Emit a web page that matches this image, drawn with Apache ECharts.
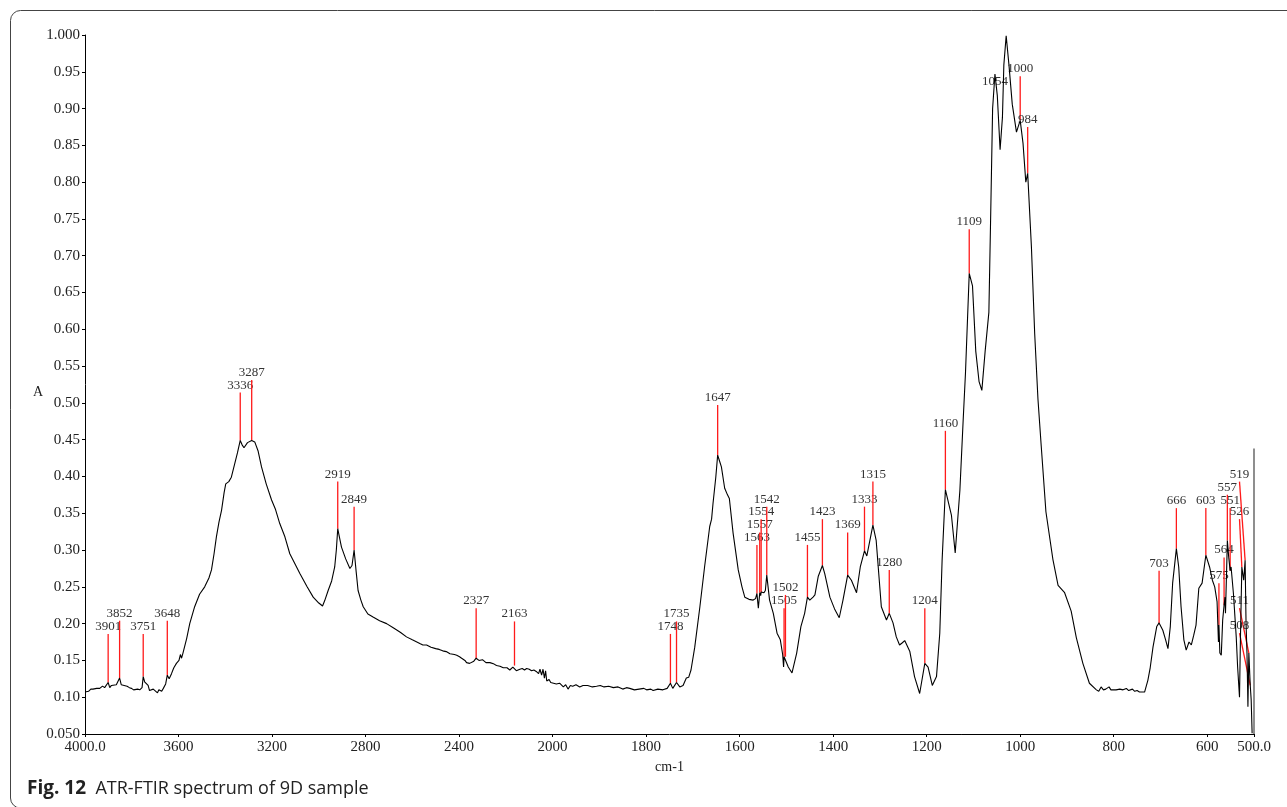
<!DOCTYPE html>
<html>
<head>
<meta charset="utf-8">
<title>ATR-FTIR spectrum of 9D sample</title>
<script src="https://cdn.jsdelivr.net/npm/echarts@6/dist/echarts.min.js"></script>
<style>
    html, body { margin: 0; padding: 0; background: #fff; }
    #chart { width: 1287px; height: 807px; }
</style>
</head>
<body>
<div id="chart"></div>
<script>
    // spectrum, [wavenumber cm-1, absorbance], split by region
    let baseHigh = [
        [4000, 0.107], [3992, 0.109], [3985, 0.108], [3975, 0.111], [3966, 0.111], [3958, 0.109], [3950, 0.112],
        [3937, 0.112], [3925, 0.115], [3916, 0.113], [3908, 0.112], [3901, 0.120], [3894, 0.113], [3887, 0.116],
        [3880, 0.114], [3866, 0.117], [3858, 0.119], [3852, 0.126], [3845, 0.117], [3837, 0.118], [3820, 0.115],
        [3810, 0.113], [3801, 0.112], [3792, 0.110], [3785, 0.109], [3775, 0.111], [3766, 0.110], [3756, 0.113],
        [3751, 0.128], [3745, 0.121], [3737, 0.119], [3730, 0.116], [3724, 0.109], [3716, 0.107], [3708, 0.111],
        [3700, 0.110], [3690, 0.106], [3684, 0.110], [3680, 0.112], [3672, 0.108], [3665, 0.112], [3655, 0.118],
        [3648, 0.130], [3640, 0.125], [3630, 0.132], [3624, 0.137], [3620, 0.140], [3614, 0.138], [3609, 0.146],
        [3598, 0.150], [3592, 0.158], [3587, 0.153], [3581, 0.160]
    ]
    let bandOH = [
        [3565, 0.180], [3552, 0.200], [3531, 0.223], [3510, 0.240], [3488, 0.250], [3470, 0.262], [3459, 0.273],
        [3448, 0.295], [3438, 0.318], [3427, 0.338], [3416, 0.354], [3405, 0.378], [3398, 0.390], [3385, 0.393],
        [3374, 0.399], [3359, 0.418], [3348, 0.432], [3336, 0.449], [3328, 0.443], [3320, 0.439], [3305, 0.446],
        [3287, 0.449], [3274, 0.447], [3260, 0.435], [3245, 0.413], [3225, 0.390], [3202, 0.368], [3185, 0.355],
        [3167, 0.336], [3145, 0.318], [3124, 0.295], [3100, 0.280], [3081, 0.268], [3050, 0.250], [3024, 0.236],
        [3000, 0.228], [2984, 0.224], [2975, 0.231], [2960, 0.245], [2945, 0.258], [2932, 0.277], [2925, 0.300],
        [2919, 0.329], [2912, 0.318], [2903, 0.304], [2885, 0.288], [2867, 0.275], [2858, 0.279], [2849, 0.300],
        [2840, 0.270], [2832, 0.245], [2820, 0.232], [2810, 0.223], [2790, 0.213], [2768, 0.209], [2740, 0.204],
        [2710, 0.200], [2680, 0.194], [2650, 0.188], [2625, 0.182], [2600, 0.178]
    ]
    let baseMid = [
        [2568, 0.173], [2555, 0.171], [2539, 0.171], [2520, 0.168], [2500, 0.166], [2485, 0.165], [2470, 0.163],
        [2455, 0.162], [2439, 0.159], [2420, 0.158], [2410, 0.157], [2398, 0.155], [2389, 0.153], [2375, 0.150],
        [2368, 0.147], [2360, 0.149], [2355, 0.146], [2347, 0.148], [2337, 0.149], [2327, 0.153], [2315, 0.150],
        [2300, 0.151], [2285, 0.147], [2268, 0.147], [2250, 0.145], [2240, 0.143], [2232, 0.145], [2225, 0.142],
        [2218, 0.144], [2211, 0.140], [2195, 0.140], [2183, 0.137], [2170, 0.141], [2163, 0.143], [2155, 0.136],
        [2147, 0.134], [2140, 0.138], [2130, 0.139], [2120, 0.137], [2111, 0.139], [2100, 0.138], [2090, 0.136],
        [2080, 0.137], [2070, 0.135], [2060, 0.132], [2054, 0.138], [2047, 0.130], [2041, 0.138], [2035, 0.126],
        [2030, 0.136], [2025, 0.122], [2015, 0.124], [2008, 0.120], [2000, 0.121], [1992, 0.118], [1985, 0.119],
        [1977, 0.114], [1972, 0.117], [1967, 0.111], [1962, 0.116], [1957, 0.115], [1950, 0.117], [1942, 0.114],
        [1935, 0.116], [1925, 0.116], [1915, 0.114], [1906, 0.115], [1898, 0.116], [1890, 0.114], [1880, 0.115],
        [1870, 0.113], [1860, 0.114], [1850, 0.111], [1842, 0.113], [1835, 0.112], [1825, 0.110], [1815, 0.111],
        [1805, 0.112], [1799, 0.110], [1790, 0.111], [1785, 0.109], [1775, 0.111], [1764, 0.110], [1755, 0.112],
        [1748, 0.119], [1743, 0.112], [1735, 0.120], [1728, 0.114], [1721, 0.116], [1714, 0.126], [1709, 0.127]
    ]
    let bandAmide = [
        [1704, 0.137], [1696, 0.168], [1685, 0.223], [1675, 0.277], [1664, 0.332], [1660, 0.342], [1657, 0.363],
        [1651, 0.399], [1647, 0.429], [1643, 0.421], [1639, 0.413], [1632, 0.384], [1626, 0.375], [1622, 0.370],
        [1614, 0.323], [1603, 0.273], [1595, 0.250], [1589, 0.236], [1580, 0.233], [1571, 0.232], [1566, 0.234],
        [1563, 0.241], [1560, 0.221], [1557, 0.242], [1555, 0.238], [1554, 0.243], [1548, 0.242], [1545, 0.245],
        [1542, 0.266], [1536, 0.232], [1528, 0.214], [1520, 0.187], [1513, 0.178], [1508, 0.158], [1506, 0.141],
        [1505, 0.155], [1502, 0.155], [1496, 0.141], [1488, 0.133], [1478, 0.160], [1469, 0.196], [1461, 0.214],
        [1455, 0.236], [1450, 0.232], [1443, 0.236], [1439, 0.239], [1432, 0.264], [1423, 0.279], [1418, 0.268],
        [1407, 0.236], [1397, 0.220], [1387, 0.208], [1379, 0.232], [1369, 0.266], [1361, 0.259], [1350, 0.242],
        [1342, 0.277], [1333, 0.299], [1328, 0.292], [1315, 0.334], [1308, 0.313], [1297, 0.223], [1286, 0.205],
        [1280, 0.214], [1272, 0.201], [1265, 0.182], [1258, 0.171], [1252, 0.174], [1247, 0.177], [1236, 0.162],
        [1226, 0.128], [1215, 0.105], [1204, 0.146], [1197, 0.141], [1188, 0.116]
    ]
    let bandSiO = [
        [1179, 0.128], [1172, 0.187], [1167, 0.286], [1160, 0.382], [1147, 0.347], [1139, 0.296], [1129, 0.381],
        [1122, 0.476], [1117, 0.541], [1109, 0.676], [1102, 0.659], [1095, 0.570], [1088, 0.529], [1082, 0.517],
        [1075, 0.570], [1067, 0.623], [1063, 0.759], [1059, 0.900], [1054, 0.947], [1049, 0.918], [1043, 0.844],
        [1038, 0.888], [1035, 0.959], [1030, 0.999], [1024, 0.959], [1017, 0.906], [1008, 0.868], [1000, 0.884],
        [994, 0.853], [988, 0.800], [984, 0.812], [976, 0.712], [969, 0.594], [962, 0.505], [955, 0.441],
        [945, 0.352], [930, 0.287], [919, 0.252], [905, 0.242], [901, 0.240], [891, 0.217], [880, 0.181],
        [866, 0.146], [852, 0.119], [837, 0.110], [832, 0.108], [827, 0.114], [822, 0.110], [817, 0.111],
        [810, 0.114], [806, 0.110], [802, 0.112], [795, 0.110], [787, 0.111], [783, 0.109], [780, 0.110],
        [773, 0.112], [768, 0.109], [765, 0.110], [760, 0.111], [755, 0.108], [750, 0.109], [745, 0.107]
    ]
    let bandLow = [
        [734, 0.107], [727, 0.123], [722, 0.140], [716, 0.168], [708, 0.196], [703, 0.201], [695, 0.191],
        [689, 0.178], [684, 0.166], [679, 0.196], [674, 0.255], [666, 0.302], [661, 0.277], [656, 0.223],
        [650, 0.178], [645, 0.164], [639, 0.175], [634, 0.171], [629, 0.184], [624, 0.198], [618, 0.248],
        [611, 0.255], [603, 0.293], [595, 0.277], [589, 0.259], [584, 0.250], [579, 0.230], [576, 0.175],
        [575, 0.198], [573, 0.160], [570, 0.157], [567, 0.205], [564, 0.225], [562, 0.236], [561, 0.214],
        [558, 0.286], [557, 0.313], [554, 0.290], [551, 0.272], [549, 0.277], [544, 0.241], [538, 0.182],
        [535, 0.141], [531, 0.100], [529, 0.180], [526, 0.277], [522, 0.259], [519, 0.286], [517, 0.200],
        [515, 0.160], [513, 0.087], [511, 0.160], [509, 0.130], [508, 0.116], [506, 0.096], [504, 0.051]
    ]

    // labelled peaks: red leader from the peak (peakA) up to its label (tagWn, tagA)
    let peakLabels = ['3901', '3852', '3751', '3648', '3336', '3287', '2919', '2849', '2327', '2163', '1748', '1735',
        '1647', '1563', '1557', '1554', '1542', '1505', '1502', '1455', '1423', '1369', '1333', '1315', '1280', '1204',
        '1160', '1109', '1054', '1000', '984', '703', '666', '603', '575', '564', '557', '551', '526', '519', '511', '508']
    let peakWn = [3901, 3852, 3751, 3648, 3336, 3287, 2919, 2849, 2327, 2163, 1748, 1735,
        1647, 1563, 1557, 1554, 1542, 1505, 1502, 1455, 1423, 1369, 1333, 1315, 1280, 1204,
        1160, 1109, 1054, 1000, 984, 703, 666, 603, 575, 564, 557, 551, 526, 519, 511, 508]
    let peakA = [0.120, 0.126, 0.128, 0.130, 0.449, 0.449, 0.329, 0.300, 0.153, 0.143, 0.119, 0.120,
        0.429, 0.241, 0.242, 0.243, 0.266, 0.155, 0.155, 0.236, 0.279, 0.266, 0.299, 0.334, 0.214, 0.146,
        0.382, 0.676, 0.947, 0.884, 0.812, 0.201, 0.302, 0.293, 0.198, 0.225, 0.313, 0.272, 0.277, 0.286, 0.160, 0.116]
    let tagWn = [3901, 3852, 3751, 3648, 3336, 3287, 2919, 2849, 2327, 2163, 1748, 1735,
        1647, 1563, 1557, 1554, 1542, 1505, 1502, 1455, 1423, 1369, 1333, 1315, 1280, 1204,
        1160, 1109, 1054, 1000, 984, 703, 666, 603, 575, 564, 557, 551, 531, 531, 531, 531]
    let tagA = [0.186, 0.204, 0.186, 0.204, 0.514, 0.531, 0.393, 0.359, 0.221, 0.203, 0.186, 0.203,
        0.497, 0.307, 0.324, 0.342, 0.359, 0.221, 0.239, 0.307, 0.342, 0.324, 0.359, 0.393, 0.273, 0.221,
        0.462, 0.736, 0.926, 0.944, 0.875, 0.272, 0.357, 0.357, 0.255, 0.290, 0.375, 0.357, 0.342, 0.393, 0.221, 0.187]

    // vertical stroke at the right end of the trace
    let edgeWn = [500, 500]
    let edgeA = [0.05, 0.438]

    let yMin = 0.05
    let yMax = 1.0
    let yStep = 0.05

    // wavenumber axis changes scale at 2000 cm-1 (400 per division above, 200 below)
    function toU(wn) {
        return wn >= 2000 ? (4000 - wn) / 400 : 5 + (2000 - wn) / 200
    }
    function fromU(u) {
        return u <= 5 ? 4000 - u * 400 : 2000 - (u - 5) * 200
    }

    let serifFont = '"Liberation Serif", "Times New Roman", serif'
    let sansFont = '"Open Sans", "Noto Sans", sans-serif'
    let labelColor = '#222'

    let spectrum = [].concat(baseHigh, bandOH, baseMid, bandAmide, bandSiO, bandLow)
        .map(p => [toU(p[0]), p[1]])
    let edge = edgeWn.map((w, i) => [toU(w), edgeA[i]])
    let peaks = peakWn.map((w, i) => [toU(w), peakA[i], toU(tagWn[i]), tagA[i], peakLabels[i]])

    let chart = echarts.init(document.getElementById('chart'))
    let options = {
        animation: false,
        backgroundColor: '#fff',
        grid: {
            left: 85,
            right: 33,
            top: 35,
            bottom: 73
        },
        xAxis: {
            type: 'value',
            min: 0,
            max: toU(500),
            interval: 1,
            name: 'cm-1',
            nameLocation: 'middle',
            nameGap: 16,
            nameTextStyle: {
                fontFamily: serifFont,
                fontSize: 14,
                color: labelColor,
                verticalAlign: 'top'
            },
            axisLine: { lineStyle: { color: '#000', width: 1 } },
            axisTick: { length: 3, lineStyle: { color: '#000' } },
            splitLine: { show: false },
            axisLabel: {
                margin: 6,
                fontFamily: serifFont,
                fontSize: 15,
                color: labelColor,
                showMinLabel: true,
                showMaxLabel: true,
                formatter: function (v) {
                    let wn = fromU(v)
                    if (v === 0 || Math.abs(v - toU(500)) < 1e-9) {
                        return wn.toFixed(1)
                    }
                    return String(Math.round(wn))
                }
            }
        },
        yAxis: {
            type: 'value',
            min: yMin,
            max: yMax,
            interval: yStep,
            axisLine: { show: true, lineStyle: { color: '#000', width: 1 } },
            axisTick: { show: true, length: 3, lineStyle: { color: '#000' } },
            splitLine: { show: false },
            axisLabel: {
                margin: 5,
                fontFamily: serifFont,
                fontSize: 15,
                color: labelColor,
                showMinLabel: true,
                showMaxLabel: true,
                formatter: function (v) {
                    if (Math.abs(v - 1) < 1e-9 || Math.abs(v - 0.05) < 1e-9) {
                        return v.toFixed(3)
                    }
                    return v.toFixed(2)
                }
            }
        },
        series: [
            {
                name: 'peaks',
                type: 'custom',
                z: 2,
                clip: false,
                data: peaks,
                renderItem: function (params, api) {
                    let p = api.coord([api.value(0), api.value(1)])
                    let t = api.coord([api.value(2), api.value(3)])
                    let children = []
                    // 1054 sits its label below the peak, no leader there
                    if (api.value(3) > api.value(1)) {
                        children.push({
                            type: 'line',
                            shape: { x1: t[0], y1: t[1], x2: p[0], y2: p[1] },
                            style: { stroke: '#ff1a1a', lineWidth: 1.3 }
                        })
                    }
                    children.push({
                        type: 'text',
                        style: {
                            text: api.value(4),
                            x: t[0],
                            y: t[1] - 1,
                            align: 'center',
                            verticalAlign: 'bottom',
                            font: '13px ' + serifFont,
                            fill: '#333'
                        }
                    })
                    return { type: 'group', children: children }
                }
            },
            {
                name: 'spectrum',
                type: 'line',
                z: 3,
                data: spectrum,
                showSymbol: false,
                symbol: 'none',
                sampling: null,
                lineStyle: { color: '#000', width: 1.1 }
            },
            {
                name: 'edge',
                type: 'line',
                z: 3,
                data: edge,
                symbol: 'none',
                lineStyle: { color: '#444', width: 1.2 }
            }
        ],
        graphic: [
            {
                type: 'rect',
                silent: true,
                shape: { x: 10.5, y: 10.5, width: 1400, height: 797.5, r: 10 },
                style: { fill: 'none', stroke: '#444', lineWidth: 1 }
            },
            {
                // y axis title
                type: 'text',
                silent: true,
                style: {
                    text: 'A',
                    x: 38,
                    y: 392,
                    align: 'center',
                    verticalAlign: 'middle',
                    font: '14px ' + serifFont,
                    fill: labelColor
                }
            },
            {
                type: 'text',
                silent: true,
                style: {
                    text: '{b|Fig. 12}  ATR-FTIR spectrum of 9D sample',
                    x: 27,
                    y: 789,
                    verticalAlign: 'middle',
                    font: '18px ' + sansFont,
                    fill: '#222',
                    rich: {
                        b: {
                            fontWeight: 'bold',
                            fontSize: 19,
                            fontFamily: sansFont,
                            fill: '#222'
                        }
                    }
                }
            }
        ]
    }
    chart.setOption(options)
</script>
</body>
</html>
